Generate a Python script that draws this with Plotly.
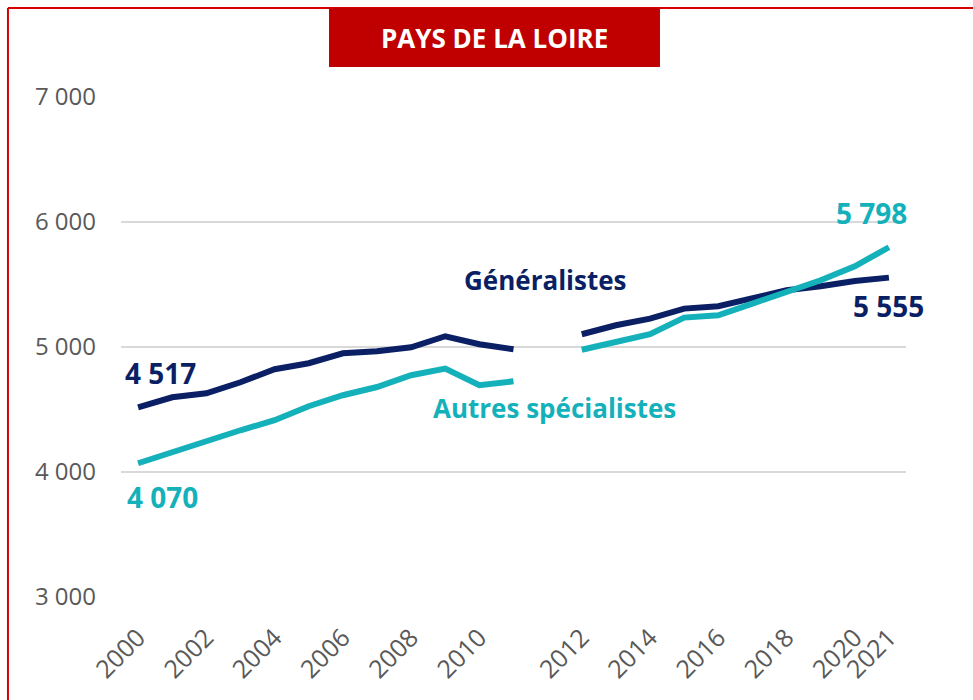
import plotly.graph_objects as go

# Categories (a blank slot separates 2011 and 2012, as in the original)
categories = [str(y) for y in range(2000, 2012)] + [" "] + [str(y) for y in range(2012, 2022)]
generalistes = [4517, 4598, 4630, 4718, 4822, 4870, 4950, 4966, 4998, 5086, 5022, 4982, None,
                5102, 5174, 5227, 5307, 5326, 5387, 5454, 5486, 5528, 5555]
autres = [4070, 4160, 4254, 4334, 4414, 4526, 4614, 4680, 4774, 4827, 4694, 4726, None,
          4978, 5040, 5102, 5235, 5254, 5347, 5440, 5534, 5646, 5798]
tick_labels = ["2000", "2002", "2004", "2006", "2008", "2010",
               "2012", "2014", "2016", "2018", "2020", "2021"]
y_ticks = [3000, 4000, 5000, 6000, 7000]
y_tick_text = ["3 000", "4 000", "5 000", "6 000", "7 000"]

NAVY = "#0b1f65"
TEAL = "#14b1bb"
GRAY = "#595959"
FONT = "Open Sans"

fig = go.Figure()
fig.add_trace(go.Scatter(x=categories, y=generalistes, mode="lines", name="Généralistes",
                         line=dict(color=NAVY, width=6), connectgaps=False))
fig.add_trace(go.Scatter(x=categories, y=autres, mode="lines", name="Autres spécialistes",
                         line=dict(color=TEAL, width=6), connectgaps=False))

fig.update_layout(
    width=973, height=700,
    margin=dict(l=121, r=67, t=97, b=103, autoexpand=False),
    paper_bgcolor="white", plot_bgcolor="white",
    showlegend=False,
    font=dict(family=FONT, color=GRAY),
    xaxis=dict(type="category", categoryorder="array", categoryarray=categories,
               range=[-0.5, len(categories) - 0.5],
               tickmode="array", tickvals=tick_labels, ticktext=tick_labels,
               tickangle=-45, tickfont=dict(size=25, color=GRAY, family=FONT),
               showgrid=False, zeroline=False, showline=False, ticks="",
               ticklabelstandoff=20, automargin=False),
    yaxis=dict(range=[3000, 7000], tickmode="array", tickvals=y_ticks, ticktext=y_tick_text,
               tickfont=dict(size=24, color=GRAY, family=FONT),
               showgrid=True, gridcolor="#d9d9d9", gridwidth=1.5,
               zeroline=False, showline=False, ticks="", ticklabelstandoff=24,
               automargin=False),
)

def ann(x, y, text, color, size=28):
    fig.add_annotation(x=x, y=y, xref="x", yref="y", text=f"<b>{text}</b>", showarrow=False,
                       font=dict(family=FONT, size=size, color=color),
                       xanchor="center", yanchor="middle")

ann(0.67, 4790, "4 517", NAVY)
ann(0.73, 3800, "4 070", TEAL)
ann(11.95, 5534, "Généralistes", NAVY, 26)
ann(12.2, 4510, "Autres spécialistes", TEAL, 26)
ann(21.5, 6070, "5 798", TEAL)
ann(22.0, 5326, "5 555", NAVY)

# Red frame (top and left edges)
fig.add_shape(type="line", xref="paper", yref="paper", x0=-0.144, x1=1.2, y0=1.178, y1=1.178,
              line=dict(color="#d90000", width=2))
fig.add_shape(type="line", xref="paper", yref="paper", x0=-0.144, x1=-0.144, y0=1.178, y1=-0.3,
              line=dict(color="#d90000", width=2))
# Title box
fig.add_shape(type="rect", xref="paper", yref="paper", x0=0.265, x1=0.6866, y0=1.06, y1=1.178,
              fillcolor="#c00000", line=dict(width=0))
fig.add_annotation(xref="paper", yref="paper", x=(0.265 + 0.6866) / 2, y=1.119,
                   text="<b>PAYS DE LA LOIRE</b>", showarrow=False,
                   font=dict(family=FONT, size=26, color="white"),
                   xanchor="center", yanchor="middle")

fig.write_html("out.html", config={"displayModeBar": False},
               post_script="document.body.style.margin='0';")
